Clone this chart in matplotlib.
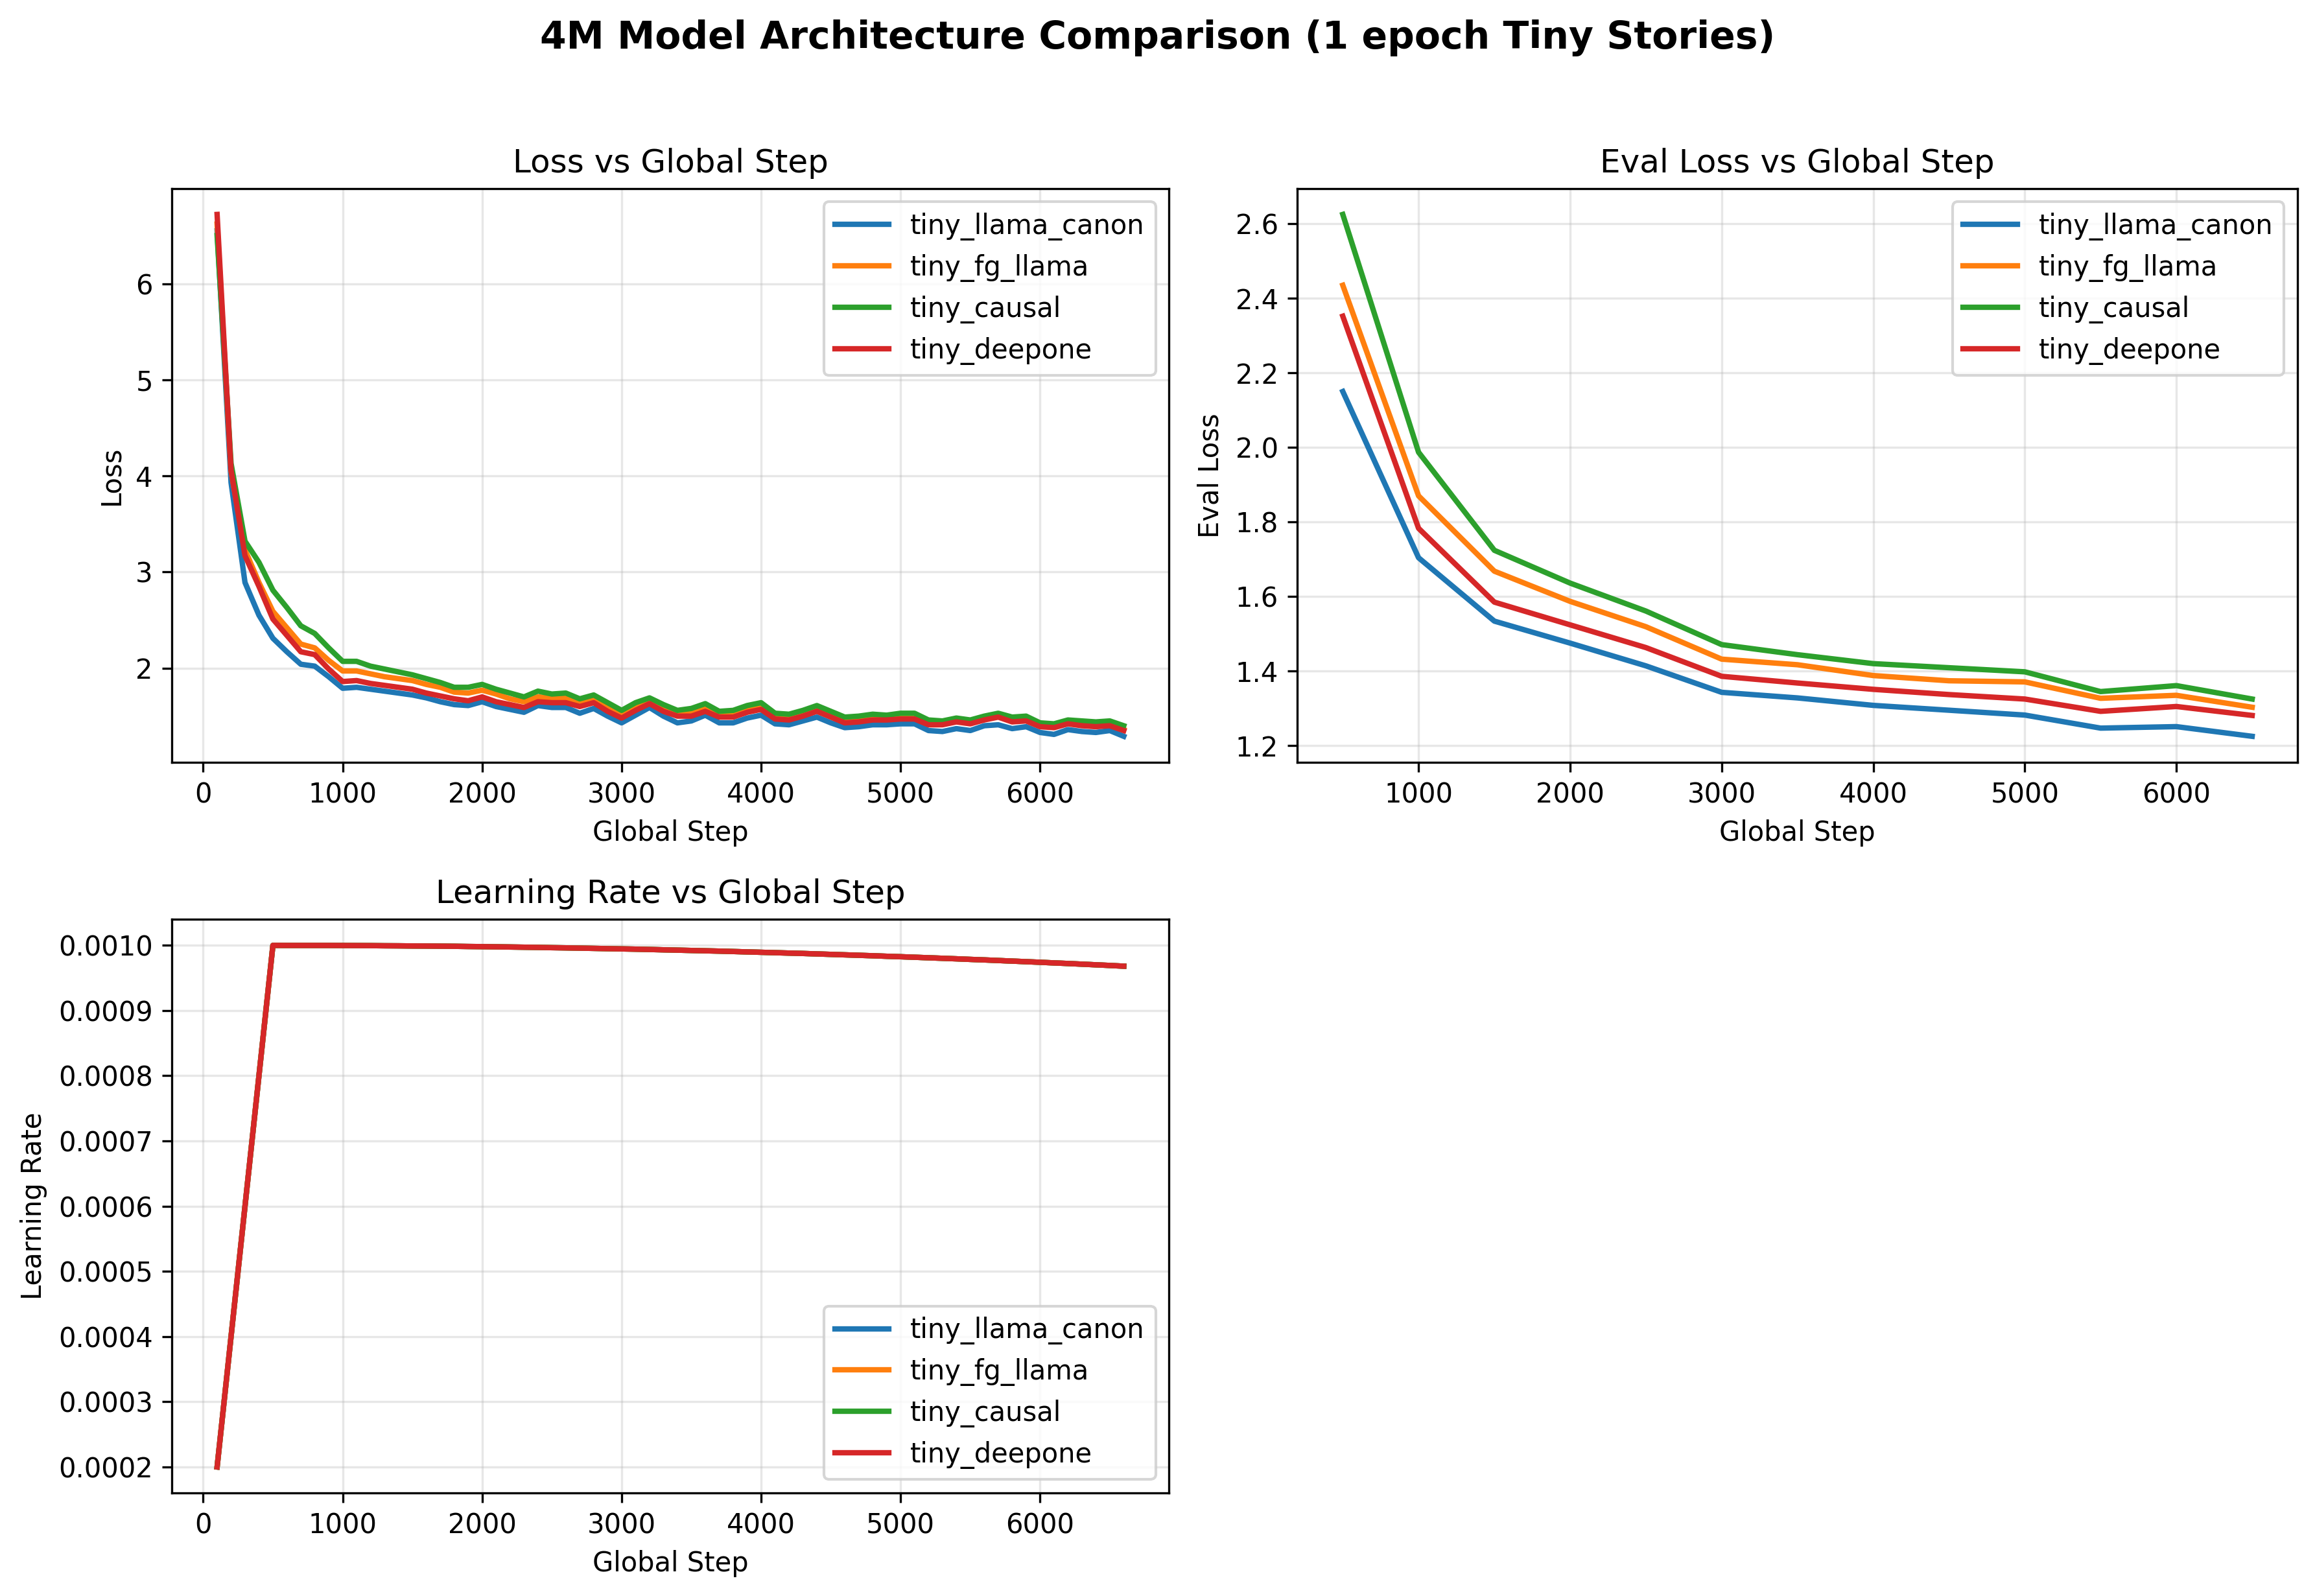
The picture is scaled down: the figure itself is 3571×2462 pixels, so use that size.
import numpy as np
import matplotlib
matplotlib.use("Agg")
import matplotlib.pyplot as plt

models = ["tiny_llama_canon", "tiny_fg_llama", "tiny_causal", "tiny_deepone"]
colors = ["#1f77b4", "#ff7f0e", "#2ca02c", "#d62728"]

# training loss, logged every 100 steps
steps = list(range(100, 6700, 100))

loss_llama_canon = [6.55, 3.93, 2.89, 2.55, 2.31, 2.17, 2.04, 2.02, 1.91, 1.79,
                    1.80, 1.78, 1.76, 1.74, 1.72, 1.69, 1.65, 1.62, 1.61, 1.65,
                    1.60, 1.57, 1.54, 1.61, 1.59, 1.59, 1.53, 1.58, 1.50, 1.43,
                    1.51, 1.59, 1.50, 1.43, 1.45, 1.51, 1.43, 1.43, 1.48, 1.51,
                    1.42, 1.41, 1.45, 1.49, 1.43, 1.38, 1.39, 1.41, 1.41, 1.42,
                    1.42, 1.35, 1.34, 1.37, 1.35, 1.40, 1.41, 1.37, 1.39, 1.33,
                    1.31, 1.36, 1.34, 1.33, 1.35, 1.29]
loss_fg_llama = [6.62, 4.05, 3.23, 2.89, 2.59, 2.42, 2.25, 2.21, 2.08, 1.97,
                 1.97, 1.94, 1.91, 1.89, 1.87, 1.83, 1.80, 1.75, 1.74, 1.77,
                 1.73, 1.68, 1.65, 1.70, 1.69, 1.69, 1.64, 1.68, 1.60, 1.52,
                 1.61, 1.66, 1.59, 1.53, 1.54, 1.59, 1.52, 1.52, 1.57, 1.60,
                 1.50, 1.49, 1.53, 1.57, 1.51, 1.45, 1.46, 1.49, 1.48, 1.50,
                 1.49, 1.42, 1.42, 1.45, 1.43, 1.47, 1.50, 1.45, 1.46, 1.40,
                 1.39, 1.43, 1.41, 1.40, 1.41, 1.36]
loss_causal = [6.50, 4.13, 3.32, 3.10, 2.81, 2.63, 2.44, 2.36, 2.21, 2.07,
               2.07, 2.02, 1.99, 1.96, 1.93, 1.89, 1.85, 1.80, 1.80, 1.83,
               1.78, 1.74, 1.70, 1.76, 1.73, 1.74, 1.68, 1.72, 1.64, 1.56,
               1.64, 1.69, 1.62, 1.56, 1.58, 1.63, 1.55, 1.56, 1.61, 1.64,
               1.53, 1.52, 1.56, 1.61, 1.55, 1.49, 1.50, 1.52, 1.51, 1.53,
               1.53, 1.46, 1.45, 1.48, 1.46, 1.50, 1.53, 1.49, 1.50, 1.43,
               1.42, 1.46, 1.45, 1.44, 1.45, 1.40]
loss_deepone = [6.72, 4.06, 3.17, 2.85, 2.51, 2.34, 2.17, 2.14, 1.99, 1.86,
                1.87, 1.84, 1.82, 1.80, 1.78, 1.74, 1.71, 1.68, 1.66, 1.70,
                1.65, 1.62, 1.59, 1.65, 1.64, 1.64, 1.60, 1.64, 1.55, 1.48,
                1.56, 1.63, 1.55, 1.50, 1.50, 1.55, 1.49, 1.49, 1.54, 1.57,
                1.47, 1.46, 1.50, 1.55, 1.49, 1.43, 1.44, 1.46, 1.46, 1.47,
                1.47, 1.41, 1.41, 1.44, 1.42, 1.46, 1.49, 1.44, 1.45, 1.39,
                1.38, 1.42, 1.40, 1.39, 1.40, 1.35]

# eval loss, every 500 steps
eval_steps = [500, 1000, 1500, 2000, 2500, 3000, 3500, 4000, 4500, 5000, 5500, 6000, 6500]
eval_llama_canon = [2.150, 1.704, 1.534, 1.475, 1.414, 1.343, 1.328, 1.308, 1.295, 1.282, 1.247, 1.251, 1.225]
eval_fg_llama = [2.435, 1.870, 1.668, 1.587, 1.519, 1.432, 1.417, 1.388, 1.374, 1.371, 1.327, 1.335, 1.303]
eval_causal = [2.625, 1.987, 1.724, 1.636, 1.561, 1.471, 1.444, 1.420, 1.409, 1.398, 1.345, 1.361, 1.325]
eval_deepone = [2.352, 1.783, 1.585, 1.524, 1.463, 1.386, 1.368, 1.351, 1.337, 1.325, 1.292, 1.305, 1.281]

# learning rate (same schedule for every run), every 100 steps
lr = [0.0002000, 0.0004000, 0.0006000, 0.0008000, 0.0010000, 0.0009999, 0.0009999, 0.0009999,
      0.0009999, 0.0009998, 0.0009997, 0.0009996, 0.0009994, 0.0009993, 0.0009991, 0.0009990,
      0.0009988, 0.0009986, 0.0009983, 0.0009981, 0.0009978, 0.0009975, 0.0009972, 0.0009969,
      0.0009965, 0.0009962, 0.0009958, 0.0009954, 0.0009950, 0.0009946, 0.0009942, 0.0009937,
      0.0009932, 0.0009927, 0.0009922, 0.0009917, 0.0009912, 0.0009906, 0.0009900, 0.0009894,
      0.0009888, 0.0009882, 0.0009876, 0.0009869, 0.0009862, 0.0009855, 0.0009848, 0.0009841,
      0.0009833, 0.0009826, 0.0009818, 0.0009810, 0.0009802, 0.0009794, 0.0009785, 0.0009777,
      0.0009768, 0.0009759, 0.0009750, 0.0009741, 0.0009731, 0.0009722, 0.0009712, 0.0009702,
      0.0009692, 0.0009681]

train_loss = [loss_llama_canon, loss_fg_llama, loss_causal, loss_deepone]
eval_loss = [eval_llama_canon, eval_fg_llama, eval_causal, eval_deepone]

W, H = 3571, 2462
fig = plt.figure(figsize=(W / 300, H / 300), dpi=300)
ax1 = fig.add_axes([0.0742, 0.5223, 0.4308, 0.3597])
ax2 = fig.add_axes([0.5604, 0.5223, 0.4321, 0.3597])
ax3 = fig.add_axes([0.0742, 0.0645, 0.4308, 0.3595])

for name, c, y in zip(models, colors, train_loss):
    ax1.plot(steps, y, color=c, linewidth=2, label=name)
ax1.set_title("Loss vs Global Step")
ax1.set_xlabel("Global Step")
ax1.set_ylabel("Loss")
ax1.legend(loc="upper right")
ax1.grid(True, alpha=0.3)

for name, c, y in zip(models, colors, eval_loss):
    ax2.plot(eval_steps, y, color=c, linewidth=2, label=name)
ax2.set_title("Eval Loss vs Global Step")
ax2.set_xlabel("Global Step")
ax2.set_ylabel("Eval Loss")
ax2.legend(loc="upper right")
ax2.grid(True, alpha=0.3)

for name, c in zip(models, colors):
    ax3.plot(steps, lr, color=c, linewidth=2, label=name)
ax3.set_title("Learning Rate vs Global Step")
ax3.set_xlabel("Global Step")
ax3.set_ylabel("Learning Rate")
ax3.legend(loc="lower right")
ax3.grid(True, alpha=0.3)

fig.suptitle("4M Model Architecture Comparison (1 epoch Tiny Stories)",
             fontsize=14, fontweight="bold", y=0.988)

fig.savefig("out.png", dpi=300)
